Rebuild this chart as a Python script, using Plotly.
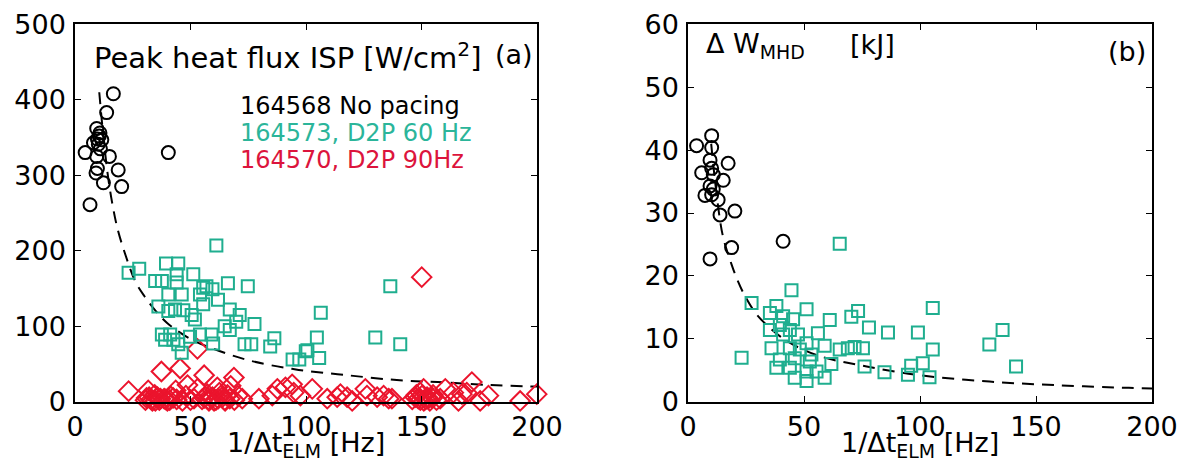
import plotly.graph_objects as go

W, H = 1179, 462

# ---------------- panel (a): peak heat flux ISP [W/cm^2] ----------------
a_nopace_x = [16.6, 13.7, 9.4, 10.8, 9.7, 11.6, 8.0, 10.1, 4.4, 9.4, 14.9, 9.7,
              18.7, 9.1, 12.3, 20.2, 6.5, 40.4, 11.0, 10.5]
a_nopace_y = [408, 383, 362, 356, 348, 347, 343, 341, 330, 325, 325, 309,
              307, 303, 290, 285, 261, 330, 335, 352]

a_60hz_x = [61.2, 23.2, 27.8, 39.4, 44.7, 34.7, 37.6, 44.0, 44.0, 51.2, 40.4, 46.2,
            54.1, 55.5, 56.9, 59.5, 61.9, 55.5, 66.2, 74.8, 36.1, 40.4, 43.3, 46.9,
            50.5, 51.9, 67.0, 71.3, 69.8, 64.8, 67.0, 77.7, 37.6, 41.2, 39.0, 42.6,
            44.7, 46.2, 54.1, 59.1, 49.8, 59.8, 73.4, 76.3, 86.3, 84.5, 94.2, 97.1,
            99.9, 106.4, 104.7, 105.7, 100.6, 136.5, 130.0, 140.8]
a_60hz_y = [207, 171, 176, 183, 183, 160, 160, 169, 158, 169, 142, 142,
            142, 151, 153, 149, 135, 129, 157, 153, 126, 120, 122, 121,
            115, 109, 122, 115, 106, 100, 95, 103, 89, 89, 82, 82,
            76, 65, 89, 89, 86, 77, 76, 76, 84, 73, 56, 56,
            67, 118, 85, 58, 68, 153, 85, 76]

a_90hz_x = [23.2, 37.4, 45.5, 53.0, 55.9, 68.8, 31.7, 32.1, 35.7, 38.6, 43.6, 48.7,
            53.0, 51.5, 57.3, 61.6, 63.8, 67.4, 67.0, 30.5, 33.5, 34.5, 36.5, 40.0,
            41.5, 44.0, 46.5, 48.0, 50.0, 55.0, 58.0, 59.5, 61.0, 62.5, 65.0, 66.0,
            69.0, 70.5, 72.4, 79.6, 85.4, 87.6, 91.1, 94.0, 94.7, 97.6, 102.7, 109.2,
            113.5, 114.9, 117.8, 120.0, 125.7, 126.4, 130.8, 133.6, 135.8, 137.2, 147.3, 149.5,
            150.9, 152.4, 149.5, 146.0, 151.0, 153.0, 155.0, 158.1, 160.3, 163.8, 166.0, 167.5,
            169.6, 171.8, 175.4, 179.0, 192.7, 199.9, 150.1,
            31.0, 33.0, 34.8, 37.0, 39.2, 41.0, 42.5, 56.0, 57.8, 60.2, 62.0, 63.5,
            64.8, 147.8, 148.6, 150.2, 151.8, 153.6, 154.6, 156.5]
a_90hz_y = [14, 40, 44, 70, 35, 32, 15, 6, 6, 4, 15, 22,
            17, 4, 10, 19, 6, 21, 4, 2, 1, 9, 2, 1,
            7, 3, 1, 8, 2, 3, 1, 6, 2, 12, 1, 9,
            2, 8, 4, 4, 8, 17, 19, 23, 12, 8, 17, 4,
            6, 10, 6, 1, 17, 8, 6, 8, 4, 4, 6, 12,
            17, 6, 2, 3, 1, 4, 9, 4, 17, 12, 1, 10,
            12, 26, 1, 8, 1, 10, 165,
            5, 3, 1, 4, 3, 2, 5, 5, 3, 1, 4, 9,
            2, 9, 4, 8, 3, 1, 5, 2]

a_fit_x = [10.5, 12, 14, 16, 18.5, 22, 26, 30, 35, 40, 50, 60, 75, 95, 118, 142, 157, 180, 200]
a_fit_y = [410, 360, 305, 265, 228, 193, 160, 140, 120, 104, 83, 70, 55, 43, 35, 28, 26, 22, 20]

# ---------------- panel (b): Delta W_MHD [kJ] ----------------
b_nopace_x = [10.2, 3.7, 10.2, 9.5, 17.3, 10.2, 5.9, 10.9, 15.2, 9.5, 10.9, 7.3,
              10.2, 13.0, 13.8, 20.2, 18.8, 9.5, 41.0]
b_nopace_y = [42.3, 40.7, 40.4, 38.4, 37.9, 37.1, 36.4, 36.1, 35.2, 34.3, 33.8, 32.8,
              32.9, 32.1, 29.7, 30.3, 24.5, 22.7, 25.5]

b_60hz_x = [65.4, 44.6, 27.4, 38.1, 51.1, 105.5, 73.3, 70.4, 35.3, 41.0, 45.3, 61.1,
            135.6, 78.0, 86.2, 99.1, 35.3, 39.6, 43.9, 41.0, 47.4, 56.0, 129.9, 105.5,
            36.0, 43.9, 51.1, 58.9, 65.4, 68.9, 71.8, 75.4, 23.1, 48.2, 53.2, 39.6,
            46.0, 52.5, 61.8, 38.1, 43.9, 51.1, 55.4, 76.1, 96.2, 101.2, 141.4, 84.7,
            94.8, 104.1, 46.0, 51.1, 58.9]
b_60hz_y = [25.1, 17.7, 15.7, 15.2, 14.7, 14.9, 14.4, 13.5, 14.1, 13.6, 13.1, 13.0,
            11.4, 11.8, 11.0, 11.0, 11.4, 12.2, 11.4, 10.7, 10.7, 10.9, 9.1, 8.3,
            8.5, 8.5, 9.3, 8.9, 8.3, 8.5, 8.7, 8.5, 7.0, 8.3, 7.5, 6.7,
            6.9, 6.4, 6.0, 5.4, 5.4, 4.8, 4.8, 5.6, 5.7, 6.1, 5.6, 4.7,
            4.3, 3.9, 3.8, 3.3, 3.8]

b_fit_x = [10, 12, 15, 18.8, 21.6, 25, 30, 40, 50, 60, 77, 100, 130, 160, 190, 200]
b_fit_y = [41, 34, 26.4, 21.8, 19.1, 16.5, 13.7, 10.3, 8.2, 6.9, 5.6, 4.2, 3.2, 2.6, 2.2, 2.1]

x_ticks = [0, 50, 100, 150, 200]
x_ticktext = ["0", "50", "100", "150", "200"]

BLACK = "#000000"
TEAL = "#1fae8f"
TEAL_TXT = "#2bb59a"
RED = "#eb142d"
RED_TXT = "#dc143c"
FONT = "DejaVu Sans"

fig = go.Figure()


def add_panel(xa, ya, nx, ny, gx, gy, fx, fy, rx=None, ry=None):
    fig.add_trace(go.Scatter(x=fx, y=fy, mode="lines", xaxis=xa, yaxis=ya,
                             line=dict(color=BLACK, width=2, dash="12px,8px", shape="spline"),
                             showlegend=False, hoverinfo="skip"))
    if rx is not None:
        fig.add_trace(go.Scatter(x=rx, y=ry, mode="markers", xaxis=xa, yaxis=ya,
                                 cliponaxis=False, showlegend=False,
                                 marker=dict(symbol="diamond-open", size=15, color=RED,
                                             line=dict(width=2))))
    fig.add_trace(go.Scatter(x=gx, y=gy, mode="markers", xaxis=xa, yaxis=ya,
                             cliponaxis=False, showlegend=False,
                             marker=dict(symbol="square-open", size=12, color=TEAL,
                                         line=dict(width=2))))
    fig.add_trace(go.Scatter(x=nx, y=ny, mode="markers", xaxis=xa, yaxis=ya,
                             cliponaxis=False, showlegend=False,
                             marker=dict(symbol="circle-open", size=13, color=BLACK,
                                         line=dict(width=2))))


add_panel("x", "y", a_nopace_x, a_nopace_y, a_60hz_x, a_60hz_y, a_fit_x, a_fit_y,
          a_90hz_x, a_90hz_y)
add_panel("x2", "y2", b_nopace_x, b_nopace_y, b_60hz_x, b_60hz_y, b_fit_x, b_fit_y)

ydom = [1 - 401.7 / H, 1 - 24.3 / H]
axis_style = dict(showgrid=False, zeroline=False, showline=True, linecolor=BLACK,
                  linewidth=1.5, mirror="ticks", ticks="inside", ticklen=6,
                  tickwidth=1.2, tickcolor=BLACK, automargin=False,
                  tickfont=dict(family=FONT, size=27, color=BLACK))

fig.update_layout(
    template="none",
    width=W, height=H,
    margin=dict(l=0, r=0, t=0, b=0, pad=0),
    paper_bgcolor="white", plot_bgcolor="white",
    xaxis=dict(domain=[75 / W, 537 / W], range=[0, 200], anchor="y",
               tickvals=x_ticks, ticktext=x_ticktext, ticklabelstandoff=0, **axis_style),
    yaxis=dict(domain=ydom, range=[0, 500], anchor="x", dtick=100,
               ticklabelstandoff=2, **axis_style),
    xaxis2=dict(domain=[688 / W, 1152 / W], range=[0, 200], anchor="y2",
                tickvals=x_ticks, ticktext=x_ticktext, ticklabelstandoff=0, **axis_style),
    yaxis2=dict(domain=ydom, range=[0, 60], anchor="x2", dtick=10,
                ticklabelstandoff=2, **axis_style),
)


def note(text, x, y, size=26, color=BLACK, xanchor="left", yanchor="middle"):
    fig.add_annotation(text=text, x=x / W, y=1 - y / H, xref="paper", yref="paper",
                       xanchor=xanchor, yanchor=yanchor, showarrow=False,
                       font=dict(family=FONT, size=size, color=color))


# panel titles
note("Peak heat flux ISP [W/cm<sup>2</sup>]", 92, 56, size=29)
note("(a)", 535, 54, size=27, xanchor="right")
note("Δ W<sub>MHD</sub>", 704, 46, size=27)
note("[kJ]", 848, 44, size=27)
note("(b)", 1148, 52, size=27, xanchor="right")

# shot labels
note("164568 No pacing", 238, 106, size=24)
note("164573, D2P 60 Hz", 238, 133, size=24, color=TEAL_TXT)
note("164570, D2P 90Hz", 238, 160, size=24, color=RED_TXT)

# x-axis titles
note("1/Δt<sub>ELM</sub> [Hz]", 306, 425, size=27, xanchor="center", yanchor="top")
note("1/Δt<sub>ELM</sub> [Hz]", 920, 425, size=27, xanchor="center", yanchor="top")

fig.write_html("out.html")
